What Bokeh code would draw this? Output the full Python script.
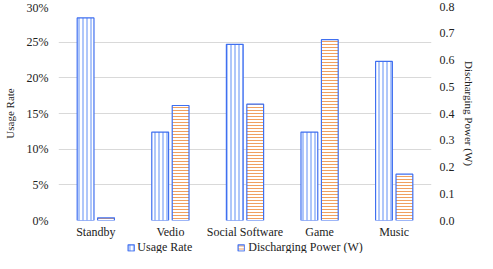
from bokeh.plotting import figure
from bokeh.layouts import column
from bokeh.models import Range1d, LinearAxis, NumeralTickFormatter, Legend, LegendItem, FactorRange
from bokeh.transform import dodge
from bokeh.embed import file_html
from bokeh.resources import INLINE

categories = ["Standby", "Vedio", "Social Software", "Game", "Music"]
usage_rate = [0.284, 0.124, 0.247, 0.124, 0.223]
discharging_power = [0.01, 0.43, 0.435, 0.676, 0.173]
usage_ticks = [0, 0.05, 0.10, 0.15, 0.20, 0.25, 0.30]
power_ticks = [0.0, 0.1, 0.2, 0.3, 0.4, 0.5, 0.6, 0.7, 0.8]
series_labels = ["Usage Rate", "Discharging Power (W)"]

FONT = "Liberation Serif"
BLUE = "#3f6ff0"
STYLE1 = dict(fill_color="white", line_color=BLUE, line_width=1.2,
              hatch_pattern="vertical_line", hatch_color="#5f8ff5", hatch_scale=4, hatch_weight=1)
STYLE2 = dict(fill_color="white", line_color=BLUE, line_width=1.2,
              hatch_pattern="horizontal_line", hatch_color="#f0a060", hatch_scale=3, hatch_weight=1)

p = figure(width=477, height=241, x_range=FactorRange(*categories),
           y_range=Range1d(0, 0.30), output_backend="svg", toolbar_location=None,
           min_border_left=38, min_border_right=30, min_border_top=6, min_border_bottom=2)
p.extra_y_ranges = {"power": Range1d(0, 0.8)}
p.outline_line_color = None
p.xgrid.grid_line_color = None
p.ygrid.grid_line_color = "#d9d9d9"
p.ygrid.ticker = usage_ticks

src = dict(cat=categories, u=usage_rate, w=discharging_power)
r1 = p.vbar(x=dodge("cat", -0.137, range=p.x_range), top="u", width=0.225, source=src, **STYLE1)
r2 = p.vbar(x=dodge("cat", 0.137, range=p.x_range), top="w", width=0.225, source=src,
            y_range_name="power", **STYLE2)

ra = LinearAxis(y_range_name="power", ticker=power_ticks, formatter=NumeralTickFormatter(format="0.0"),
                axis_label="Discharging Power (W)")
p.add_layout(ra, "right")

for ax in [p.yaxis[0], p.xaxis[0], ra]:
    ax.axis_line_color = None
    ax.major_tick_line_color = None
    ax.minor_tick_line_color = None
    ax.major_tick_out = 0
    ax.major_tick_in = 0
    ax.minor_tick_out = 0
    ax.minor_tick_in = 0
    ax.major_label_text_font = FONT
    ax.major_label_text_font_size = "12px"
    ax.major_label_text_color = "#222222"

p.yaxis[0].ticker = usage_ticks
p.yaxis[0].formatter = NumeralTickFormatter(format="0%")
p.yaxis[0].axis_label = "Usage Rate"
p.yaxis[0].major_label_standoff = 10
p.xaxis[0].major_label_standoff = 4
p.xaxis[0].axis_label_standoff = 0
ra.major_label_standoff = 8

for ax in [p.yaxis[0], ra]:
    ax.axis_label_text_font = FONT
    ax.axis_label_text_font_size = "11px"
    ax.axis_label_text_font_style = "normal"
    ax.axis_label_text_color = "#222222"
p.yaxis[0].axis_label_standoff = 8
ra.axis_label_standoff = 5

# legend-only strip
lf = figure(width=477, height=12, output_backend="svg", toolbar_location=None,
            x_range=Range1d(0, 1), y_range=Range1d(0, 1),
            min_border=0)
lf.axis.visible = False
lf.grid.visible = False
lf.outline_line_color = None
l1 = lf.vbar(x=[float("nan")], top=[float("nan")], width=0.1, **STYLE1)
l2 = lf.vbar(x=[float("nan")], top=[float("nan")], width=0.1, **STYLE2)
legend = Legend(items=[LegendItem(label=series_labels[0], renderers=[l1]),
                       LegendItem(label=series_labels[1], renderers=[l2])],
                orientation="horizontal", location="center",
                label_text_font=FONT, label_text_font_size="12px", label_text_color="#222222",
                label_height=12, glyph_width=8, glyph_height=8, spacing=45, padding=0, margin=0,
                label_standoff=3, border_line_color=None, background_fill_alpha=0)
lf.add_layout(legend)

open("out.html", "w").write(file_html(column(p, lf), INLINE))
